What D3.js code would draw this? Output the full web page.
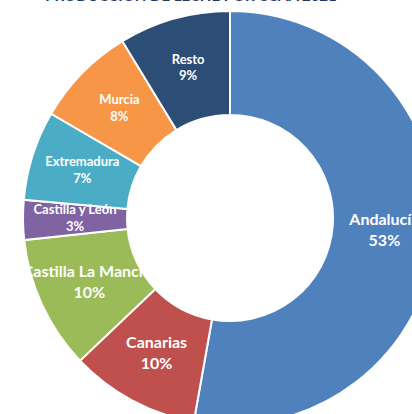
<!DOCTYPE html>
<html>
<head>
<meta charset="utf-8">
<script src="https://cdn.jsdelivr.net/npm/d3@7"></script>
<style>
  html, body { margin: 0; padding: 0; background: #fff; overflow: hidden; }
  svg { display: block; }
</style>
</head>
<body>
<svg id="chart" width="412" height="414"></svg>
<script>
// regions and share of milk production (%)
var regions = ['Andalucía', 'Canarias', 'Castilla La Mancha', 'Castilla y León', 'Extremadura', 'Murcia', 'Resto'];
var shares = [52.8, 10.1, 10.4, 3.1, 7.0, 7.9, 8.7];
var colors = ['#4F81BD', '#C0504D', '#9BBB59', '#8064A2', '#4BACC6', '#F79646', '#2C4D75'];
var title = 'PRODUCCIÓN DE LECHE POR CCAA 2021';

var svg = d3.select('#chart');
var cx = 230, cy = 218,
    outerR = 207, innerR = 103;

var data = regions.map(function (r, i) { return { name: r, value: shares[i] }; });

var pie = d3.pie()
    .sort(null)
    .value(function (d) { return d.value; });

var arc = d3.arc()
    .innerRadius(innerR)
    .outerRadius(outerR);

var color = d3.scaleOrdinal().domain(regions).range(colors);

var g = svg.append('g').attr('transform', 'translate(' + cx + ',' + cy + ')');

g.selectAll('path')
    .data(pie(data))
    .enter().append('path')
    .attr('d', arc)
    .attr('fill', function (d) { return color(d.data.name); })
    .attr('stroke', '#fff')
    .attr('stroke-width', 2);

// labels: name + rounded percentage at the middle of the ring
var big = function (d) { return d.data.value >= 10; };

var labels = g.selectAll('text.lbl')
    .data(pie(data))
    .enter().append('text')
    .attr('class', 'lbl')
    .attr('transform', function (d) { return 'translate(' + arc.centroid(d) + ')'; })
    .attr('text-anchor', 'middle')
    .attr('fill', '#fff')
    .style('font-family', 'Lato, "Open Sans", sans-serif')
    .style('font-weight', 'bold')
    .style('font-size', function (d) { return big(d) ? '16px' : '13px'; });

labels.append('tspan')
    .attr('x', 0)
    .attr('dy', '-0.4em')
    .text(function (d) { return d.data.name; });

labels.append('tspan')
    .attr('x', 0)
    .attr('dy', '1.3em')
    .text(function (d) { return Math.round(d.data.value) + '%'; });

// title (mostly cut off at the top)
svg.append('text')
    .attr('x', 191)
    .attr('y', 0.5)
    .attr('text-anchor', 'middle')
    .attr('fill', '#1F3864')
    .style('font-family', 'Lato, "Open Sans", sans-serif')
    .style('font-weight', 'bold')
    .style('font-size', '15px')
    .text(title);
</script>
</body>
</html>
